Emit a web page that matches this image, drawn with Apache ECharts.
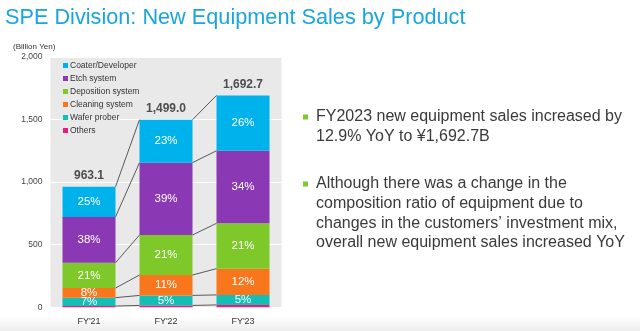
<!DOCTYPE html>
<html>
<head>
<meta charset="utf-8">
<script src="https://cdn.jsdelivr.net/npm/echarts@6/dist/echarts.min.js"></script>
<style>
html,body{margin:0;padding:0;background:#fff;}
#chart{width:640px;height:331px;}
</style>
</head>
<body>
<div id="chart"></div>
<script>
const categories = ["FY'21", "FY'22", "FY'23"];
const seriesNames = ["Coater/Developer", "Etch system", "Deposition system", "Cleaning system", "Wafer prober", "Others"];
const coater = [241, 343, 442];
const etch = [366, 578, 580];
const deposition = [202, 320, 362];
const cleaning = [77, 163, 210];
const waferProber = [67, 80, 80];
const others = [10, 15, 19];
const totals = [963.1, 1499.0, 1692.7];
const totalLabels = ["963.1", "1,499.0", "1,692.7"];
const coaterPct = ["25%", "23%", "26%"];
const etchPct = ["38%", "39%", "34%"];
const depositionPct = ["21%", "21%", "21%"];
const cleaningPct = ["8%", "11%", "12%"];
const waferPct = ["7%", "5%", "5%"];
const yTicks = [0, 500, 1000, 1500, 2000];
const bulletLines1 = ["FY2023 new equipment sales increased by", "12.9% YoY to ¥1,692.7B"];
const bulletLines2 = ["Although there was a change in the", "composition ratio of equipment due to", "changes in the customers’ investment mix,", "overall new equipment sales increased YoY"];

const colors = {
  "Coater/Developer": "#00b2ec",
  "Etch system": "#8a38b4",
  "Deposition system": "#7fc829",
  "Cleaning system": "#fa761c",
  "Wafer prober": "#14beb5",
  "Others": "#ec1a80"
};
const BW = 53;
const FONT = "'Liberation Sans', Arial, sans-serif";

// stack order bottom to top
const stackOrder = [
  { name: "Others", data: others, pct: null },
  { name: "Wafer prober", data: waferProber, pct: waferPct },
  { name: "Cleaning system", data: cleaning, pct: cleaningPct },
  { name: "Deposition system", data: deposition, pct: depositionPct },
  { name: "Etch system", data: etch, pct: etchPct },
  { name: "Coater/Developer", data: coater, pct: coaterPct }
];

function levels(i) {
  const out = [];
  let c = 0;
  stackOrder.forEach(s => { c += s.data[i]; out.push(c); });
  return out;
}

const barSeries = stackOrder.map(s => ({
  name: s.name,
  type: 'bar',
  stack: 'total',
  barWidth: BW,
  data: s.data,
  itemStyle: { color: colors[s.name] },
  label: {
    show: !!s.pct,
    position: 'inside',
    color: '#ffffff',
    fontSize: 11.5,
    fontFamily: FONT,
    formatter: p => s.pct ? s.pct[p.dataIndex] : ''
  },
  emphasis: { disabled: true },
  silent: true
}));

const connectorSeries = {
  type: 'custom',
  silent: true,
  z: 5,
  data: [[0, 0], [1, 0]],
  encode: { x: 0, y: 1 },
  renderItem: function (params, api) {
    const i = api.value(0);
    const a = levels(i), b = levels(i + 1);
    const children = [];
    for (let k = 0; k < a.length; k++) {
      const p1 = api.coord([i, a[k]]);
      const p2 = api.coord([i + 1, b[k]]);
      children.push({
        type: 'line',
        shape: { x1: p1[0] + BW / 2, y1: p1[1], x2: p2[0] - BW / 2, y2: p2[1] },
        style: { stroke: '#5a5a5a', lineWidth: 1 }
      });
    }
    return { type: 'group', children: children };
  }
};

const totalSeries = {
  type: 'scatter',
  symbolSize: 0,
  silent: true,
  data: totals,
  label: {
    show: true,
    position: 'top',
    distance: 5,
    color: '#262626',
    fontSize: 12,
    fontWeight: 'bold',
    fontFamily: FONT,
    formatter: p => totalLabels[p.dataIndex]
  }
};

const graphics = [
  { type: 'text', left: 13, top: 43, style: { text: '(Billion Yen)', font: "8px " + FONT, fill: '#333' } }
];
function addBullet(lines, y0) {
  graphics.push({ type: 'rect', shape: { x: 303, y: y0 - 2.5, width: 5, height: 5 }, style: { fill: '#7fc829' } });
  lines.forEach((t, k) => {
    graphics.push({ type: 'text', x: 316, y: y0 + k * 19.6, style: { text: t, font: "16px " + FONT, fill: '#3a3a3a', textVerticalAlign: 'middle' } });
  });
}
addBullet(bulletLines1, 117);
addBullet(bulletLines2, 184);
graphics.push({
  type: 'rect', shape: { x: 0, y: 316, width: 640, height: 15 }, z: -1,
  style: { fill: new echarts.graphic.LinearGradient(0, 0, 0, 1, [{ offset: 0, color: 'rgba(240,240,240,0)' }, { offset: 1, color: 'rgba(236,236,236,1)' }]) }
});

const chart = echarts.init(document.getElementById('chart'), null, { renderer: 'canvas' });
chart.setOption({
  animation: false,
  backgroundColor: '#ffffff',
  title: {
    text: 'SPE Division: New Equipment Sales by Product',
    left: 0, top: 2,
    textStyle: { color: '#19a6df', fontSize: 21.7, fontWeight: 'normal', fontFamily: FONT }
  },
  legend: {
    data: seriesNames,
    orient: 'vertical',
    left: 58, top: 56,
    itemWidth: 5, itemHeight: 5, itemGap: 4,
    icon: 'rect',
    selectedMode: false,
    textStyle: { fontSize: 8.5, color: '#333', fontFamily: FONT, padding: [0, 0, 0, -3] }
  },
  grid: {
    left: 50.5, right: 358.5, top: 57, bottom: 23.7,
    show: true, backgroundColor: '#e9e9e9', borderWidth: 0
  },
  xAxis: {
    type: 'category',
    data: categories,
    axisLine: { show: false },
    axisTick: { show: false },
    axisLabel: { color: '#333', fontSize: 9, fontFamily: FONT, margin: 10 }
  },
  yAxis: {
    type: 'value',
    min: yTicks[0], max: yTicks[yTicks.length - 1], interval: 500,
    axisLine: { show: false },
    axisTick: { show: false },
    splitLine: { lineStyle: { color: '#ffffff', width: 1 } },
    axisLabel: { color: '#444', fontSize: 8.5, fontFamily: FONT, margin: 8,
      formatter: v => v.toLocaleString('en-US') }
  },
  series: barSeries.concat([connectorSeries, totalSeries]),
  graphic: graphics
});
</script>
</body>
</html>
